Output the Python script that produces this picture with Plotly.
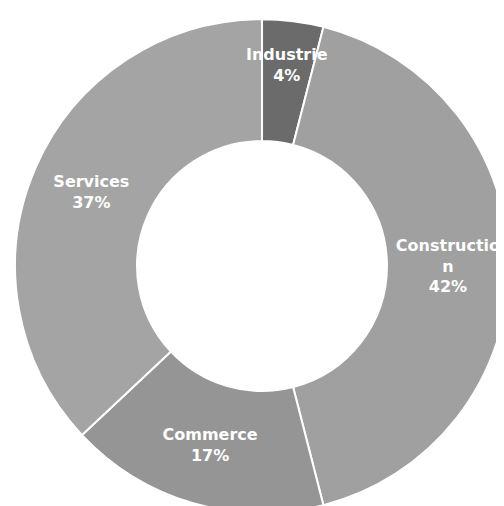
import math
import plotly.graph_objects as go

categories = ["Industrie", "Construction", "Commerce", "Services"]
values = [4, 42, 17, 37]
display_labels = ["Industrie", "Constructio<br>n", "Commerce", "Services"]
colors = ["#6b6b6b", "#a0a0a0", "#959595", "#a4a4a4"]

FONT = dict(family="DejaVu Sans", size=16, color="white", weight="bold")
W, H = 504, 506
dom_x = [0.014, 0.994]
dom_y = [0.002, 0.978]

total = sum(values)
# the thin first slice gets its label placed deeper inside the ring, as in the original
texts = []
for i, (lab, v) in enumerate(zip(display_labels, values)):
    texts.append("" if i == 0 else f"{lab}<br>{round(100 * v / total)}%")

fig = go.Figure(go.Pie(
    labels=categories,
    values=values,
    text=texts,
    textinfo="text",
    textposition="inside",
    insidetextorientation="horizontal",
    textfont=FONT,
    marker=dict(colors=colors, line=dict(color="white", width=2)),
    hole=0.506,
    sort=False,
    direction="clockwise",
    rotation=0,
    domain=dict(x=dom_x, y=dom_y),
    showlegend=False,
    hoverinfo="label+percent",
))

# label of the first slice, placed at its mid-angle within the ring
R = min((dom_x[1] - dom_x[0]) * W, (dom_y[1] - dom_y[0]) * H) / 2
cx = sum(dom_x) / 2
cy = sum(dom_y) / 2
theta = 2 * math.pi * (values[0] / 2) / total
r = 0.82 * R
fig.add_annotation(
    x=cx + r * math.sin(theta) / W,
    y=cy + r * math.cos(theta) / H,
    xref="paper", yref="paper",
    text=f"{display_labels[0]}<br>{round(100 * values[0] / total)}%",
    showarrow=False,
    font=FONT,
    xanchor="center", yanchor="middle",
)

fig.update_layout(
    width=W, height=H,
    margin=dict(l=0, r=0, t=0, b=0),
    paper_bgcolor="white",
    plot_bgcolor="white",
    uniformtext=dict(minsize=16, mode="show"),
)

fig.write_html("out.html")
